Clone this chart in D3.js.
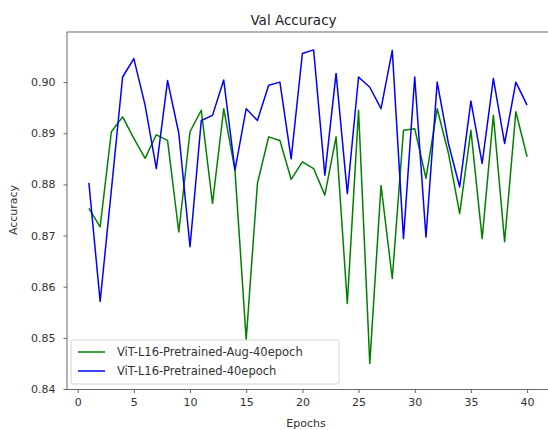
<!DOCTYPE html>
<html><head><meta charset="utf-8">
<script src="https://cdn.jsdelivr.net/npm/d3@7"></script>
<style>body{margin:0;background:#fff;} text{font-family:"DejaVu Sans",sans-serif;}</style>
</head><body>
<svg id="c" width="548" height="430"></svg>
<script>
const epochs = d3.range(1, 41);
const augAcc = [0.8753,0.8717,0.8903,0.8932,0.8890,0.8851,0.8897,0.8886,0.8707,0.8903,
                0.8945,0.8763,0.8948,0.8828,0.8497,0.8802,0.8893,0.8886,0.8810,0.8844,
                0.8831,0.8779,0.8893,0.8567,0.8945,0.8450,0.8798,0.8616,0.8906,0.8909,
                0.8812,0.8948,0.8861,0.8743,0.8906,0.8694,0.8935,0.8688,0.8942,0.8854];
const baseAcc = [0.8803,0.8571,0.8789,0.9010,0.9046,0.8955,0.8831,0.9003,0.8900,0.8678,
                 0.8925,0.8935,0.9004,0.8828,0.8948,0.8925,0.8994,0.9000,0.8850,0.9056,
                 0.9063,0.8818,0.9017,0.8782,0.9010,0.8990,0.8948,0.9062,0.8694,0.9010,
                 0.8697,0.9000,0.8880,0.8795,0.8963,0.8841,0.9007,0.8880,0.9000,0.8955];
const seriesNames = ["ViT-L16-Pretrained-Aug-40epoch", "ViT-L16-Pretrained-40epoch"];
const seriesColors = ["#008000", "#0000ff"];
const xTicks = [0,5,10,15,20,25,30,35,40];
const yTicks = [0.84,0.85,0.86,0.87,0.88,0.89,0.90];

const svg = d3.select("#c");
const L = 67, R = 550, T = 32, B = 389.5;
const x = d3.scaleLinear().domain([-0.95, 42.04]).range([L, R]);
const y = d3.scaleLinear().domain([0.8399, 0.9098]).range([B, T]);

const xAxis = svg.append("g").attr("transform", `translate(0,${B})`)
  .call(d3.axisBottom(x).tickValues(xTicks).tickFormat(d3.format("d")).tickSize(3.5).tickPadding(5));
const yAxis = svg.append("g").attr("transform", `translate(${L},0)`)
  .call(d3.axisLeft(y).tickValues(yTicks).tickFormat(d3.format(".2f")).tickSize(3.5).tickPadding(8));
[xAxis, yAxis].forEach(a => {
  a.select(".domain").remove();
  a.selectAll("line").attr("stroke", "#444").attr("stroke-width", 0.8);
  a.selectAll("text").attr("font-size", 11).attr("fill", "#333").attr("font-family", "DejaVu Sans");
});

const data = [augAcc, baseAcc];
const line = d3.line().x((d, i) => x(epochs[i])).y(d => y(d));
data.forEach((s, k) => {
  svg.append("path").datum(s).attr("d", line).attr("fill", "none")
    .attr("stroke", seriesColors[k]).attr("stroke-width", 1.5).attr("stroke-linejoin", "round");
});

svg.append("rect").attr("x", L).attr("y", T).attr("width", R - L).attr("height", B - T)
  .attr("fill", "none").attr("stroke", "#444").attr("stroke-width", 0.8);

svg.append("text").attr("x", 293.5).attr("y", 25).attr("text-anchor", "middle")
  .attr("font-size", 13.5).attr("fill", "#222").text("Val Accuracy");
svg.append("text").attr("x", 306).attr("y", 427).attr("text-anchor", "middle")
  .attr("font-size", 11).attr("fill", "#333").text("Epochs");
svg.append("text").attr("transform", "translate(17,210) rotate(-90)").attr("text-anchor", "middle")
  .attr("font-size", 11).attr("fill", "#333").text("Accuracy");

const lg = svg.append("g");
lg.append("rect").attr("x", 71).attr("y", 340).attr("width", 268).attr("height", 44).attr("rx", 2)
  .attr("fill", "#fff").attr("fill-opacity", 0.8).attr("stroke", "#ccc").attr("stroke-width", 0.8);
seriesNames.forEach((n, k) => {
  const yy = 352 + k * 19;
  lg.append("line").attr("x1", 78).attr("x2", 105).attr("y1", yy).attr("y2", yy)
    .attr("stroke", seriesColors[k]).attr("stroke-width", 1.5);
  lg.append("text").attr("x", 117).attr("y", yy + 4).attr("font-size", 11.5).attr("fill", "#333").text(n);
});
</script>
</body></html>
